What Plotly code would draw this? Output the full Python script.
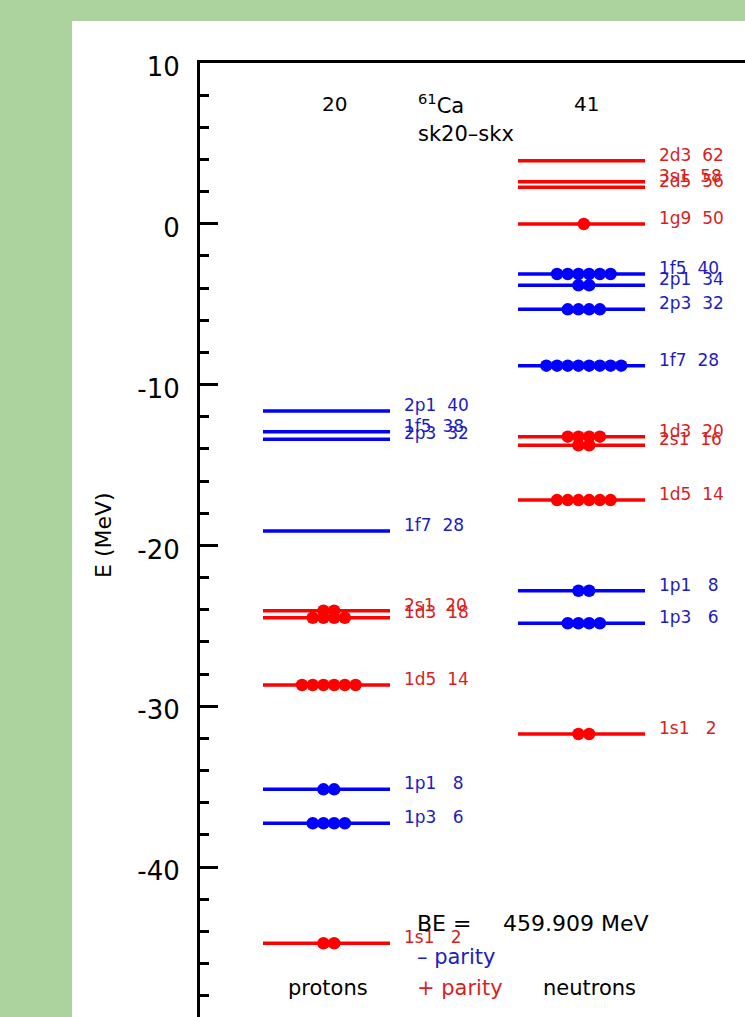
import plotly.graph_objects as go

# ---------------- data ----------------
proton_names = ["1s1", "1p3", "1p1", "1d5", "1d3", "2s1", "1f7", "2p3", "1f5", "2p1"]
proton_E = [-44.74, -37.28, -35.17, -28.68, -24.50, -24.06, -19.10, -13.40, -12.93, -11.64]
proton_occ = [2, 4, 2, 6, 4, 2, 0, 0, 0, 0]
proton_num = [2, 6, 8, 14, 18, 20, 28, 32, 38, 40]

neutron_names = ["1s1", "1p3", "1p1", "1d5", "2s1", "1d3", "1f7", "2p3", "2p1", "1f5", "1g9", "2d5", "3s1", "2d3"]
neutron_E = [-31.73, -24.84, -22.82, -17.18, -13.77, -13.24, -8.82, -5.32, -3.82, -3.12, -0.01, 2.27, 2.62, 3.92]
neutron_occ = [2, 4, 2, 6, 2, 4, 8, 4, 2, 6, 1, 0, 0, 0]
neutron_num = [2, 6, 8, 14, 16, 20, 28, 32, 34, 40, 50, 56, 58, 62]

Z = 20
N = 41
nucleus = "<sup>61</sup>Ca"
interaction = "sk20–skx"
binding_energy = 459.909

y_ticks = [10, 0, -10, -20, -30, -40]

# ---------------- styling / layout ----------------
W, H = 745, 1017
BLUE, RED = "#0000ff", "#ff0000"
BLUE_T, RED_T = "#1c1cc4", "#d91e1e"
FONT = "DejaVu Sans"

def px(x):
    return x / W

def py(y):
    return 1 - y / H

columns = [
    (263, 390, proton_names, proton_E, proton_occ, proton_num),
    (518, 645, neutron_names, neutron_E, neutron_occ, neutron_num),
]

def parity_of(name):
    l = "spdfghi".index(name[1])
    return (-1) ** l

fig = go.Figure()
annotations = []

for x0, x1, names, Es, occs, nums in columns:
    xc = (x0 + x1) / 2 + 2.3
    for name, E, occ, num in zip(names, Es, occs, nums):
        neg = parity_of(name) < 0
        col = BLUE if neg else RED
        tcol = BLUE_T if neg else RED_T
        fig.add_trace(go.Scatter(x=[x0, x1], y=[E, E], mode="lines",
                                 line=dict(color=col, width=3.5),
                                 hoverinfo="skip", showlegend=False))
        if occ > 0:
            xs = [xc + (i - (occ - 1) / 2) * 10.7 for i in range(occ)]
            fig.add_trace(go.Scatter(x=xs, y=[E] * occ, mode="markers",
                                     marker=dict(color=col, size=12.5, line=dict(width=0)),
                                     hoverinfo="skip", showlegend=False))
        annotations.append(dict(x=x1 + 12, y=E, xref="x", yref="y",
                                text=f"{name} {num:3d}", showarrow=False,
                                xanchor="left", yanchor="middle", yshift=6,
                                font=dict(family=FONT, size=17, color=tcol)))

def txt(x, y, s, size, color="black", xanchor="center", angle=0):
    annotations.append(dict(x=px(x), y=py(y), xref="paper", yref="paper",
                            text=s, showarrow=False, xanchor=xanchor,
                            yanchor="middle", textangle=angle,
                            font=dict(family=FONT, size=size, color=color)))

txt(334, 104, str(Z), 20)
txt(586, 104, str(N), 20)
txt(416, 104, nucleus, 21, xanchor="left")
txt(466, 134, interaction, 21)
txt(103, 535, "E (MeV)", 22, angle=-90)
txt(415, 923, "BE =", 22, xanchor="left")
txt(501, 923, f"{binding_energy:.3f} MeV", 22, xanchor="left")
txt(415, 957, "– parity", 21, color=BLUE_T, xanchor="left")
txt(415, 988, "+ parity", 21, color=RED_T, xanchor="left")
txt(328, 988, "protons", 21)
txt(589, 988, "neutrons", 21)

y_top = 10
px_per_mev = 16.08
y_top_px = 63
y_bottom = y_top - (H - y_top_px) / px_per_mev

fig.update_layout(
    width=W, height=H,
    margin=dict(l=0, r=0, t=0, b=0, pad=0, autoexpand=False),
    paper_bgcolor="#acd39e",
    plot_bgcolor="white",
    showlegend=False,
    annotations=annotations,
    shapes=[dict(type="rect", xref="paper", yref="paper",
                 x0=px(72), x1=1, y0=0, y1=py(21),
                 fillcolor="white", line=dict(width=0), layer="below")],
    xaxis=dict(domain=[px(200), 1], range=[200, W], side="top",
               showline=True, linecolor="black", linewidth=3,
               showticklabels=False, ticks="", showgrid=False, zeroline=False,
               fixedrange=True, automargin=False),
    yaxis=dict(domain=[0, 1 - y_top_px / H], range=[y_bottom, y_top],
               showline=True, linecolor="black", linewidth=3,
               ticks="inside", ticklen=18, tickwidth=3, tickcolor="black",
               tickvals=y_ticks, ticktext=[str(v) for v in y_ticks],
               tickfont=dict(family=FONT, size=26, color="black"),
               ticklabelstandoff=12, ticklabelshift=4,
               minor=dict(dtick=2, tick0=0, ticks="inside", ticklen=9,
                          tickwidth=3, tickcolor="black", showgrid=False),
               showgrid=False, zeroline=False, fixedrange=True, automargin=False),
)

fig.write_html("out.html")
